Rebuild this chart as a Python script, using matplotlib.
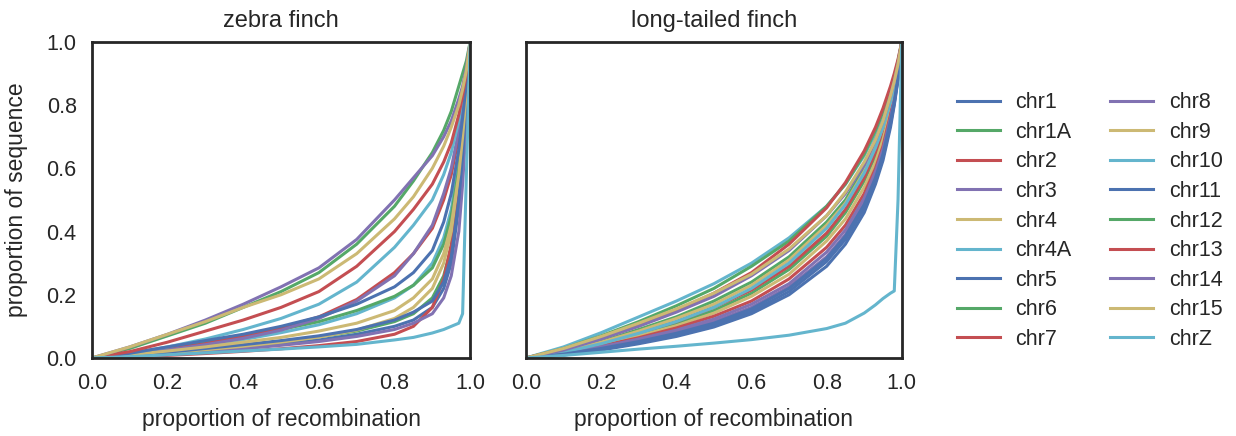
import numpy as np
import matplotlib
matplotlib.use("Agg")
import matplotlib.pyplot as plt

plt.rcParams['font.family'] = ['Liberation Sans', 'DejaVu Sans']
plt.rcParams['text.color'] = '#262626'
plt.rcParams['axes.labelcolor'] = '#262626'
plt.rcParams['xtick.color'] = '#262626'
plt.rcParams['ytick.color'] = '#262626'

# chromosome names and the seaborn "deep" colour cycle
chroms = ['chr1', 'chr1A', 'chr2', 'chr3', 'chr4', 'chr4A', 'chr5', 'chr6', 'chr7',
          'chr8', 'chr9', 'chr10', 'chr11', 'chr12', 'chr13', 'chr14', 'chr15', 'chrZ']
palette = ['#4C72B0', '#55A868', '#C44E52', '#8172B2', '#CCB974', '#64B5CD']

# proportion of recombination (x) at which each curve is sampled
rec = [0, .1, .2, .3, .4, .5, .6, .7, .8, .85, .9, .93, .95, .97, .98, .99, 1]

# proportion of sequence, zebra finch
zf = {
    'chr1':  [0, .006, .014, .023, .033, .044, .057, .075, .10, .12, .16, .22, .30, .48, .62, .80, 1],
    'chr1A': [0, .008, .018, .028, .040, .052, .067, .085, .115, .14, .19, .26, .35, .52, .66, .82, 1],
    'chr2':  [0, .003, .008, .014, .021, .029, .039, .052, .075, .10, .16, .25, .36, .55, .68, .83, 1],
    'chr3':  [0, .005, .012, .020, .029, .040, .052, .068, .09, .11, .14, .19, .26, .40, .55, .75, 1],
    'chr4':  [0, .007, .016, .026, .037, .050, .066, .088, .125, .16, .22, .30, .40, .58, .70, .84, 1],
    'chr4A': [0, .010, .024, .040, .058, .080, .105, .14, .19, .23, .30, .38, .47, .62, .73, .86, 1],
    'chr5':  [0, .008, .018, .030, .042, .055, .070, .09, .12, .145, .18, .24, .32, .50, .64, .82, 1],
    'chr6':  [0, .012, .030, .048, .067, .090, .115, .15, .195, .23, .285, .36, .45, .60, .72, .85, 1],
    'chr7':  [0, .012, .028, .045, .070, .095, .13, .185, .27, .33, .41, .50, .58, .70, .78, .88, 1],
    'chr8':  [0, .010, .025, .042, .062, .088, .125, .18, .26, .33, .42, .52, .60, .72, .80, .89, 1],
    'chr9':  [0, .010, .022, .035, .050, .065, .085, .11, .15, .19, .25, .33, .42, .58, .70, .84, 1],
    'chr10': [0, .015, .035, .060, .090, .125, .17, .24, .35, .42, .50, .58, .65, .75, .82, .90, 1],
    'chr11': [0, .015, .035, .055, .075, .10, .13, .17, .225, .27, .34, .43, .52, .66, .76, .87, 1],
    'chr12': [0, .030, .070, .11, .16, .21, .27, .36, .48, .56, .65, .72, .78, .86, .90, .94, 1],
    'chr13': [0, .020, .050, .085, .12, .16, .21, .29, .40, .47, .55, .62, .68, .77, .83, .90, 1],
    'chr14': [0, .035, .075, .12, .17, .225, .285, .375, .50, .57, .64, .70, .75, .82, .86, .92, 1],
    'chr15': [0, .035, .075, .115, .16, .20, .25, .33, .44, .51, .60, .67, .73, .80, .85, .91, 1],
    'chrZ':  [0, .004, .010, .016, .022, .028, .035, .043, .057, .065, .079, .09, .10, .11, .14, .58, 1],
}

# proportion of sequence, long-tailed finch
ltf = {
    'chr1':  [0, .009, .025, .045, .068, .098, .14, .20, .29, .36, .46, .55, .625, .73, .80, .88, 1],
    'chr1A': [0, .018, .045, .075, .11, .15, .205, .28, .385, .46, .56, .64, .71, .80, .85, .915, 1],
    'chr2':  [0, .020, .048, .080, .115, .16, .215, .29, .395, .47, .57, .65, .72, .80, .855, .92, 1],
    'chr3':  [0, .012, .032, .055, .082, .115, .16, .225, .32, .39, .49, .575, .65, .75, .815, .895, 1],
    'chr4':  [0, .017, .042, .070, .102, .142, .195, .265, .37, .44, .54, .62, .69, .78, .84, .91, 1],
    'chr4A': [0, .035, .080, .13, .18, .235, .30, .38, .48, .55, .64, .71, .77, .84, .88, .93, 1],
    'chr5':  [0, .010, .027, .048, .072, .103, .147, .21, .305, .375, .475, .56, .635, .74, .805, .885, 1],
    'chr6':  [0, .022, .052, .090, .13, .18, .24, .32, .43, .50, .60, .68, .74, .82, .87, .93, 1],
    'chr7':  [0, .015, .038, .064, .095, .132, .18, .25, .35, .42, .52, .60, .67, .77, .83, .90, 1],
    'chr8':  [0, .014, .035, .060, .088, .123, .17, .235, .335, .405, .505, .59, .66, .76, .82, .90, 1],
    'chr9':  [0, .020, .050, .085, .125, .17, .23, .31, .42, .49, .59, .67, .73, .81, .86, .92, 1],
    'chr10': [0, .018, .045, .078, .115, .16, .22, .30, .41, .485, .585, .665, .73, .81, .86, .92, 1],
    'chr11': [0, .012, .030, .052, .078, .11, .155, .22, .315, .385, .485, .57, .645, .75, .81, .89, 1],
    'chr12': [0, .030, .070, .115, .165, .22, .29, .37, .48, .55, .645, .72, .78, .85, .89, .94, 1],
    'chr13': [0, .028, .065, .105, .15, .205, .27, .36, .475, .555, .655, .73, .79, .86, .90, .945, 1],
    'chr14': [0, .025, .060, .10, .145, .195, .26, .34, .45, .52, .61, .69, .75, .83, .875, .93, 1],
    'chr15': [0, .030, .068, .11, .155, .205, .265, .345, .45, .525, .62, .69, .75, .83, .875, .93, 1],
    'chrZ':  [0, .008, .018, .028, .037, .047, .058, .072, .093, .11, .142, .168, .188, .205, .212, .50, 1],
}

fig = plt.figure(figsize=(12.36, 4.36), dpi=100)
ax1 = fig.add_axes([0.0744, 0.179, 0.306, 0.725])
ax2 = fig.add_axes([0.4256, 0.179, 0.304, 0.725])

for ax, data, title in [(ax1, zf, 'zebra finch'), (ax2, ltf, 'long-tailed finch')]:
    for i, c in enumerate(chroms):
        ax.plot(rec, data[c], color=palette[i % 6], lw=2.2, label=c,
                solid_joinstyle='round')
    ax.set_xlim(0, 1)
    ax.set_ylim(0, 1)
    ax.set_xticks([0, .2, .4, .6, .8, 1.0])
    ax.set_yticks([0, .2, .4, .6, .8, 1.0])
    ax.tick_params(length=0, labelsize=15.5, pad=11)
    ax.set_title(title, fontsize=17, pad=11)
    ax.set_xlabel('proportion of recombination', fontsize=16.5, labelpad=10)
    for s in ax.spines.values():
        s.set_linewidth(2)
        s.set_color('#262626')

ax1.set_ylabel('proportion of sequence', fontsize=16.5, labelpad=13)
ax2.set_yticklabels([])

handles, labels = ax1.get_legend_handles_labels()
fig.legend(handles, labels, loc='center left', bbox_to_anchor=(0.767, 0.493),
           ncol=2, frameon=False, fontsize=15.5, handlelength=2.0, handletextpad=0.72,
           columnspacing=1.8, labelspacing=0.4, borderaxespad=0)

fig.savefig('out.png', dpi=100)
